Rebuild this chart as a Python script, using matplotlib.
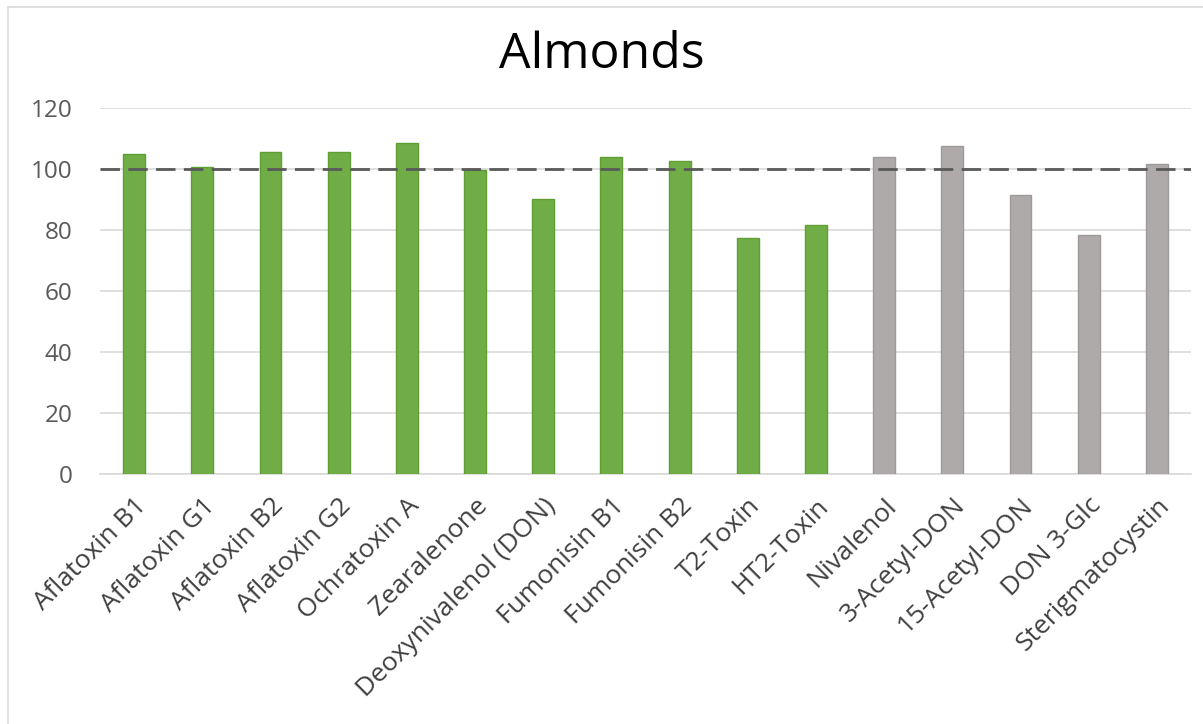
import matplotlib
matplotlib.use("Agg")
import matplotlib.pyplot as plt
from matplotlib.patches import Rectangle

categories = ["Aflatoxin B1", "Aflatoxin G1", "Aflatoxin B2", "Aflatoxin G2",
              "Ochratoxin A", "Zearalenone", "Deoxynivalenol (DON)",
              "Fumonisin B1", "Fumonisin B2", "T2-Toxin", "HT2-Toxin",
              "Nivalenol", "3-Acetyl-DON", "15-Acetyl-DON", "DON 3-Glc",
              "Sterigmatocystin"]
values = [105.0, 100.9, 105.7, 105.7, 108.7, 99.8, 90.4, 104.0, 102.8,
          77.5, 81.7, 104.0, 107.6, 91.6, 78.5, 101.8]
groups = ["green"] * 11 + ["gray"] * 5
reference_level = 100
y_ticks = [0, 20, 40, 60, 80, 100, 120]

fill = {"green": "#70AD47", "gray": "#AEAAAA"}
edge = {"green": "#5E9E32", "gray": "#9E9A9A"}

plt.rcParams['font.family'] = ['Open Sans', 'DejaVu Sans']
fig = plt.figure(figsize=(12.03, 7.24), dpi=100)
fig.patch.set_facecolor("white")
fig.patches.append(Rectangle((8 / 1203, -0.01), 1.0, 1 - 7 / 724 + 0.01,
                             transform=fig.transFigure, fill=False,
                             edgecolor="#D9D9D9", linewidth=1.2))

ax = fig.add_axes([100 / 1203, 1 - 473.7 / 724, 1091 / 1203, (473.7 - 108.4) / 724])
x = list(range(len(categories)))
ax.bar(x, values, width=0.32, color=[fill[g] for g in groups],
       edgecolor=[edge[g] for g in groups], linewidth=1.0, zorder=3)
ax.axhline(reference_level, color="#595959", linestyle=(0, (7, 3)), linewidth=2.0, zorder=4)

ax.set_xlim(-0.5, len(categories) - 0.5)
ax.set_ylim(0, 120)
ax.set_yticks(y_ticks)
ax.set_yticklabels([str(t) for t in y_ticks], fontsize=17.5, color="#595959")
ax.yaxis.grid(True, color="#D9D9D9", linewidth=1.2, zorder=0)
ax.set_axisbelow(True)
ax.tick_params(axis='y', length=0, pad=20)
ax.tick_params(axis='x', length=0, pad=14)
ax.set_xticks(x)
ax.set_xticklabels(categories, rotation=45, ha='right', rotation_mode='anchor',
                   fontsize=19, color="#404040")
for s in ["top", "right", "left"]:
    ax.spines[s].set_visible(False)
ax.spines["bottom"].set_color("#D9D9D9")
ax.spines["bottom"].set_linewidth(1.2)

fig.text(0.5, 1 - 55 / 724, "Almonds", ha='center', va='center', fontsize=36, color="#000000")

fig.savefig("out.png", dpi=100, facecolor="white")
